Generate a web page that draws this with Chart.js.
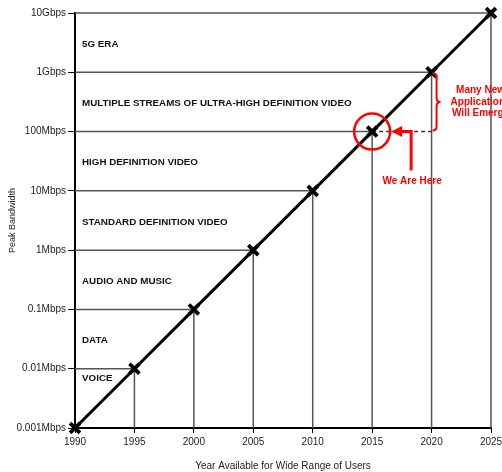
<!DOCTYPE html>
<html>
<head>
<meta charset="utf-8">
<script src="https://cdn.jsdelivr.net/npm/chart.js@4"></script>
<style>
    html, body { margin: 0; padding: 0; background: #fff; }
    #contenedor { width: 502px; height: 472px; }
</style>
</head>
<body>
<div id="contenedor"><canvas id="grafico"></canvas></div>
<script>
// 1. Datos: año y ancho de banda pico (en Mbps)
const anios = [1990, 1995, 2000, 2005, 2010, 2015, 2020, 2025];
const anchoBanda = [0.001, 0.01, 0.1, 1, 10, 100, 1000, 10000];
const etiquetasY = ['0.001Mbps', '0.01Mbps', '0.1Mbps', '1Mbps', '10Mbps', '100Mbps', '1Gbps', '10Gbps'];

// 2. Zonas de aplicaciones (una por década)
const zonas = ['VOICE', 'DATA', 'AUDIO AND MUSIC', 'STANDARD DEFINITION VIDEO',
    'HIGH DEFINITION VIDEO', 'MULTIPLE STREAMS OF ULTRA-HIGH DEFINITION VIDEO', '5G ERA'];

// 3. Anotaciones en rojo
const anioActual = 2015;
const anioFuturo = 2020;
const textoActual = 'We Are Here';
const textoFuturo = ['Many New', 'Applications', 'Will Emerge'];

const ROJO = '#ff0000';
const fuente = '"Liberation Sans", Arial, sans-serif';

Chart.defaults.font.family = fuente;
Chart.defaults.color = '#222';

const puntos = anios.map((x, i) => ({ x: x, y: anchoBanda[i] }));

// 4. Plugin: líneas de referencia y textos de zonas (debajo de la curva)
const lineasReferencia = {
    id: 'lineasReferencia',
    beforeDatasetsDraw(chart) {
        const { ctx, chartArea, scales: { x, y } } = chart;
        ctx.save();
        ctx.strokeStyle = '#555';
        ctx.lineWidth = 1.5;
        anios.forEach((anio, i) => {
            const px = x.getPixelForValue(anio);
            const py = y.getPixelForValue(anchoBanda[i]);
            ctx.beginPath();
            ctx.moveTo(chartArea.left, py);
            ctx.lineTo(px, py);
            ctx.moveTo(px, py);
            ctx.lineTo(px, chartArea.bottom);
            ctx.stroke();
        });

        // tramo punteado hasta el año futuro
        const iAct = anios.indexOf(anioActual);
        const yAct = y.getPixelForValue(anchoBanda[iAct]);
        ctx.setLineDash([4, 3]);
        ctx.strokeStyle = '#333';
        ctx.beginPath();
        ctx.moveTo(x.getPixelForValue(anioActual), yAct);
        ctx.lineTo(x.getPixelForValue(anioFuturo), yAct);
        ctx.stroke();
        ctx.setLineDash([]);

        // textos de cada zona
        ctx.fillStyle = '#111';
        ctx.font = 'bold 9.8px ' + fuente;
        ctx.textAlign = 'left';
        ctx.textBaseline = 'middle';
        zonas.forEach((txt, i) => {
            const lo = anchoBanda[i], hi = anchoBanda[i + 1];
            let py = y.getPixelForValue(Math.sqrt(lo * hi)) + 1.5;
            if (i === 0) py = y.getPixelForValue(hi) + 10;
            ctx.fillText(txt, chartArea.left + 7, py);
        });
        ctx.restore();
    }
};

// 5. Plugin: círculo, flecha, llave y textos en rojo
const anotaciones = {
    id: 'anotaciones',
    afterDatasetsDraw(chart) {
        const { ctx, scales: { x, y } } = chart;
        const iAct = anios.indexOf(anioActual);
        const iFut = anios.indexOf(anioFuturo);
        const cx = x.getPixelForValue(anioActual);
        const cy = y.getPixelForValue(anchoBanda[iAct]);
        const fx = x.getPixelForValue(anioFuturo);
        const fy = y.getPixelForValue(anchoBanda[iFut]);

        ctx.save();
        ctx.strokeStyle = ROJO;
        ctx.fillStyle = ROJO;

        // círculo
        ctx.lineWidth = 2.5;
        ctx.beginPath();
        ctx.arc(cx, cy, 18, 0, Math.PI * 2);
        ctx.stroke();

        // flecha en codo
        ctx.lineWidth = 3;
        ctx.beginPath();
        ctx.moveTo(cx + 39, cy + 39);
        ctx.lineTo(cx + 39, cy);
        ctx.lineTo(cx + 28, cy);
        ctx.stroke();
        ctx.beginPath();
        ctx.moveTo(cx + 19, cy);
        ctx.lineTo(cx + 30, cy - 5.5);
        ctx.lineTo(cx + 30, cy + 5.5);
        ctx.closePath();
        ctx.fill();

        ctx.font = 'bold 10px ' + fuente;
        ctx.textAlign = 'center';
        ctx.textBaseline = 'middle';
        ctx.fillText(textoActual, cx + 40, cy + 50);

        // llave entre el valor actual y el futuro
        const bx = fx + 5;
        const ym = (fy + cy) / 2;
        ctx.lineWidth = 2;
        ctx.beginPath();
        ctx.moveTo(bx - 4, fy + 1);
        ctx.quadraticCurveTo(bx, fy + 1, bx, fy + 5);
        ctx.lineTo(bx, ym - 4);
        ctx.quadraticCurveTo(bx, ym, bx + 4, ym);
        ctx.quadraticCurveTo(bx, ym, bx, ym + 4);
        ctx.lineTo(bx, cy - 5);
        ctx.quadraticCurveTo(bx, cy - 1, bx - 4, cy - 1);
        ctx.stroke();

        textoFuturo.forEach((linea, i) => {
            ctx.fillText(linea, fx + 49, ym - 11.5 + i * 11.5);
        });
        ctx.restore();
    }
};

// 6. Crear gráfico con Chart.js
const grafico = new Chart(document.getElementById('grafico'), {
    type: 'line',
    data: {
        datasets: [{
            data: puntos,
            borderColor: '#000',
            borderWidth: 3,
            pointStyle: 'crossRot',
            pointRadius: 7,
            pointBorderWidth: 3.8,
            pointBorderColor: '#000',
            pointHoverRadius: 7,
            tension: 0,
            clip: false
        }]
    },
    options: {
        responsive: true,
        maintainAspectRatio: false,
        animation: false,
        layout: {
            autoPadding: false,
            padding: { top: 13, right: 11, bottom: 0, left: 0 }
        },
        plugins: {
            legend: { display: false },
            tooltip: { enabled: false }
        },
        scales: {
            x: {
                type: 'linear',
                min: 1990,
                max: 2025,
                afterFit(scale) {
                    scale.height = 44;
                    scale.paddingLeft = 0;
                    scale.paddingRight = 0;
                },
                ticks: {
                    stepSize: 5,
                    padding: 3,
                    font: { size: 10 },
                    color: '#222',
                    callback: (v) => String(v)
                },
                grid: { drawOnChartArea: false, tickLength: 5, color: '#000', lineWidth: 1 },
                border: { color: '#000', width: 2 },
                title: {
                    display: true,
                    text: 'Year Available for Wide Range of Users',
                    font: { size: 10 },
                    color: '#222',
                    padding: { top: 0, bottom: 0 }
                }
            },
            y: {
                type: 'logarithmic',
                min: 0.001,
                max: 10000,
                afterFit(scale) {
                    scale.width = 75;
                    scale.paddingTop = 0;
                    scale.paddingBottom = 0;
                },
                afterBuildTicks(scale) {
                    scale.ticks = anchoBanda.map(v => ({ value: v }));
                },
                ticks: {
                    padding: 2,
                    font: { size: 10 },
                    color: '#222',
                    callback: (v, i) => etiquetasY[i]
                },
                grid: { drawOnChartArea: false, tickLength: 7, color: '#000', lineWidth: 1 },
                border: { color: '#000', width: 2 },
                title: {
                    display: true,
                    text: 'Peak Bandwidth',
                    font: { size: 9 },
                    color: '#222',
                    padding: { top: 7.5, bottom: 0 }
                }
            }
        }
    },
    plugins: [lineasReferencia, anotaciones]
});
</script>
</body>
</html>
